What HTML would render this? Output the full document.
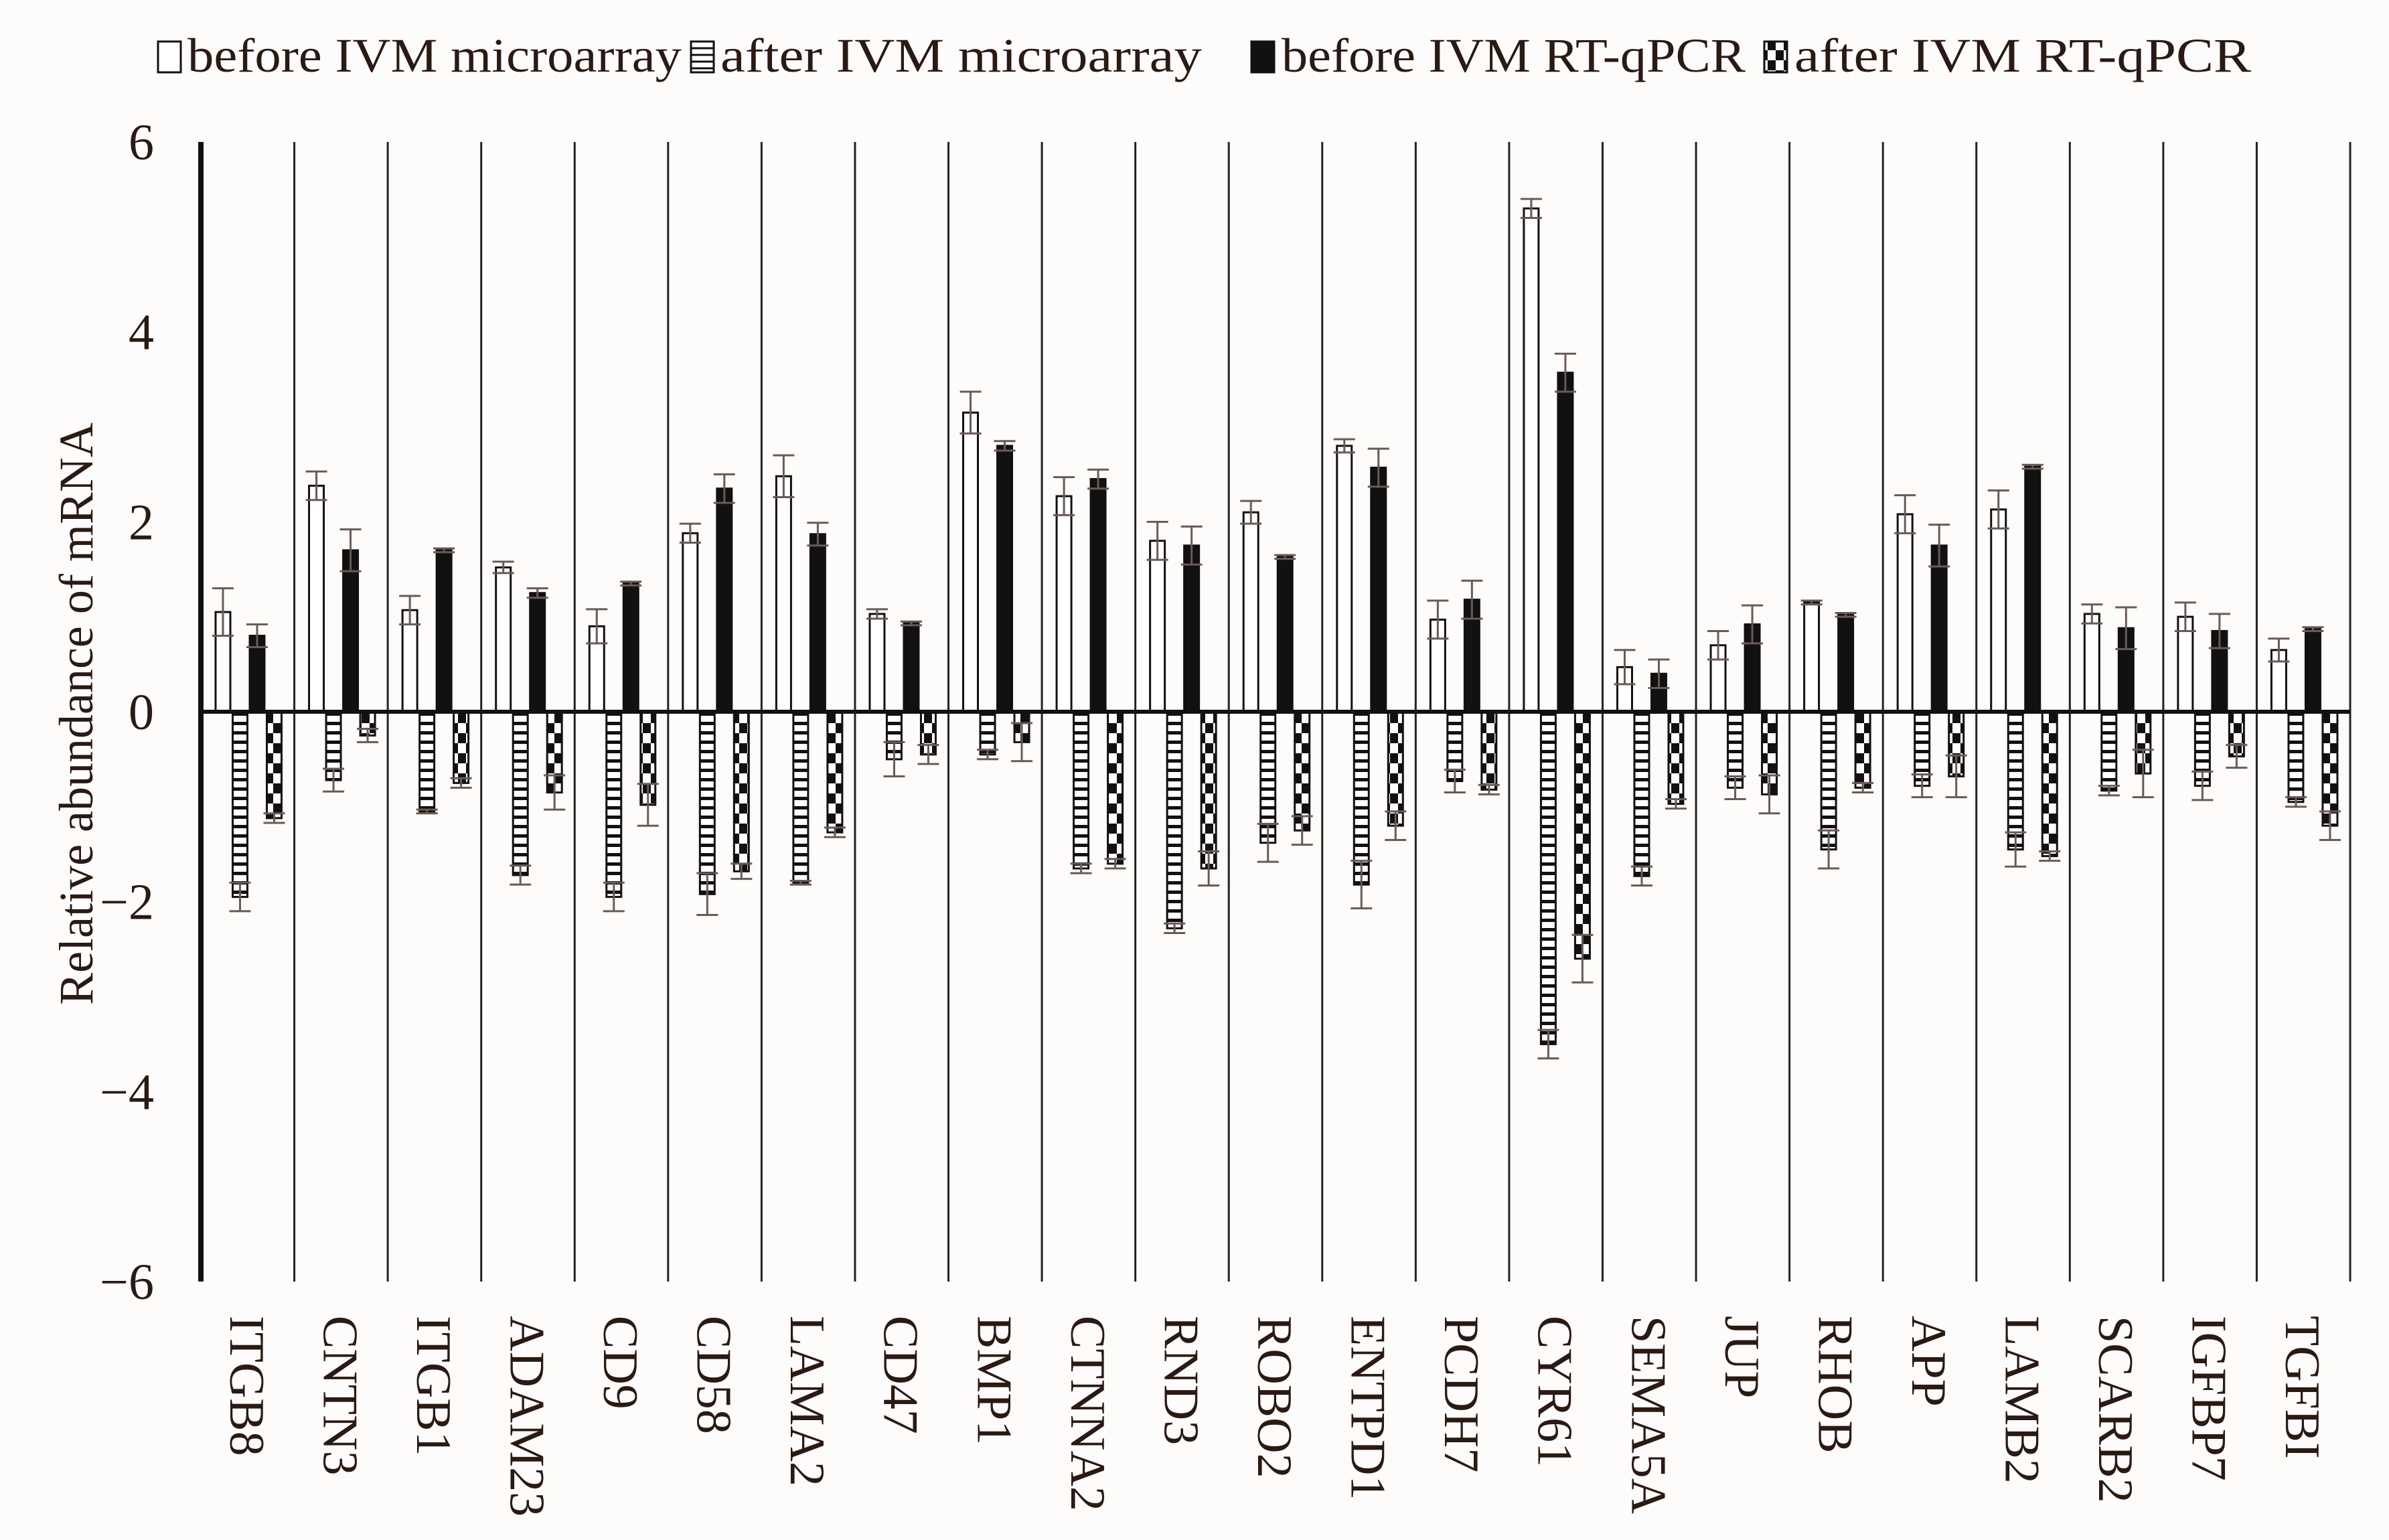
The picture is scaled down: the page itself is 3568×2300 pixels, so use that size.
<!DOCTYPE html>
<html><head><meta charset="utf-8">
<style>
html,body{margin:0;padding:0;background:#fdfcfa;}
svg{display:block;}
text{font-family:"Liberation Serif",serif;fill:#2a1a12;}
</style></head>
<body>
<svg id="chart" width="3568" height="2300" viewBox="0 0 3568 2300" xmlns="http://www.w3.org/2000/svg">
<defs>
<pattern id="hatch" patternUnits="userSpaceOnUse" width="22" height="14">
<rect width="22" height="14" fill="#fff"/><rect y="0" width="22" height="5" fill="#111"/>
</pattern>
<pattern id="checker" patternUnits="userSpaceOnUse" width="24" height="30">
<rect width="24" height="30" fill="#fff"/><rect x="0" y="0" width="12" height="15" fill="#111"/><rect x="12" y="15" width="12" height="15" fill="#111"/>
</pattern>
</defs>
<g id="legend"></g>
<g id="grid"></g>
<g id="bars"></g>
<g id="axes"></g>
</svg>
<script>
const categories=["ITGB8","CNTN3","ITGB1","ADAM23","CD9","CD58","LAMA2","CD47","BMP1","CTNNA2","RND3","ROBO2","ENTPD1","PCDH7","CYR61","SEMA5A","JUP","RHOB","APP","LAMB2","SCARB2","IGFBP7","TGFBI"];
const beforeMicro=[1.05,2.38,1.07,1.52,0.9,1.88,2.48,1.03,3.15,2.27,1.8,2.1,2.8,0.97,5.3,0.47,0.7,1.15,2.08,2.13,1.03,1.0,0.65];
const afterMicro=[-1.95,-0.72,-1.05,-1.72,-1.95,-1.92,-1.8,-0.5,-0.45,-1.65,-2.28,-1.38,-1.82,-0.73,-3.5,-1.73,-0.8,-1.45,-0.78,-1.45,-0.83,-0.78,-0.95];
const beforeQ=[0.8,1.7,1.7,1.25,1.35,2.35,1.87,0.93,2.8,2.45,1.75,1.63,2.57,1.18,3.57,0.4,0.92,1.02,1.75,2.58,0.88,0.85,0.87];
const afterQ=[-1.12,-0.25,-0.75,-0.85,-0.98,-1.68,-1.27,-0.45,-0.32,-1.6,-1.65,-1.25,-1.2,-0.82,-2.6,-0.97,-0.87,-0.8,-0.68,-1.52,-0.65,-0.47,-1.2];
const errBM=[0.25,0.15,0.15,0.06,0.18,0.1,0.22,0.05,0.22,0.2,0.2,0.12,0.07,0.2,0.1,0.18,0.15,0.02,0.2,0.2,0.1,0.15,0.12];
const errAM=[0.15,0.12,0.02,0.1,0.15,0.22,0.02,0.18,0.05,0.05,0.05,0.2,0.25,0.12,0.15,0.1,0.12,0.2,0.12,0.18,0.05,0.15,0.05];
const errBQ=[0.12,0.22,0.02,0.05,0.02,0.15,0.12,0.02,0.05,0.1,0.2,0.02,0.2,0.2,0.2,0.15,0.2,0.02,0.22,0.02,0.22,0.18,0.02];
const errAQ=[0.05,0.07,0.05,0.18,0.22,0.08,0.05,0.1,0.2,0.05,0.18,0.15,0.15,0.05,0.25,0.05,0.2,0.05,0.22,0.05,0.25,0.12,0.15];
const yTicks=[6,4,2,0,-2,-4,-6];
const legendLabels=["before IVM microarray","after IVM microarray","before IVM RT-qPCR","after IVM RT-qPCR"];

const NS="http://www.w3.org/2000/svg";
const X0=300,X1=3510,Y6=212,YM6=1914;
const catW=(X1-X0)/categories.length;
function y(v){return Y6+(6-v)*(YM6-Y6)/12;}
function xCat(i){return X0+i*catW;}
function mk(tag,attrs,parent){const e=document.createElementNS(NS,tag);for(const k in attrs)e.setAttribute(k,attrs[k]);parent.appendChild(e);return e;}
const grid=document.getElementById('grid'),bars=document.getElementById('bars'),axes=document.getElementById('axes'),legend=document.getElementById('legend');
const fills=["#fff","url(#hatch)","#111","url(#checker)"];
const series=[beforeMicro,afterMicro,beforeQ,afterQ];
const errs=[errBM,errAM,errBQ,errAQ];
const sNames=["before-microarray","after-microarray","before-qpcr","after-qpcr"];
for(let i=1;i<=categories.length;i++){
  const l=mk('line',{x1:xCat(i),x2:xCat(i),y1:Y6,y2:YM6,stroke:'#222','stroke-width':3},grid);
  
  
}
categories.forEach((c,i)=>{
  series.forEach((s,k)=>{
    const v=s[i];const bx=xCat(i)+22+k*25.5;const bw=22;
    const top=Math.min(y(v),y(0)),h=Math.abs(y(v)-y(0));
    const r=mk('rect',{x:bx,y:top,width:bw,height:h,fill:fills[k],stroke:'#111','stroke-width':3},bars);
    
    
    const e=errs[k][i];const cx=bx+bw/2;
    const ya=y(v+(v>=0?e:-e)),yb=y(v-(v>=0?e:-e));
    const g=mk('g',{stroke:'#6a5a55','stroke-width':3},bars);
    
    
    mk('line',{x1:cx,x2:cx,y1:ya,y2:yb},g);
    mk('line',{x1:cx-16,x2:cx+16,y1:ya,y2:ya},g);
    mk('line',{x1:cx-16,x2:cx+16,y1:yb,y2:yb},g);
  });
  const t=mk('text',{x:0,y:0,'font-size':74,transform:`translate(${xCat(i)+catW/2-26},1965) rotate(90)`,'text-anchor':'start'},axes);
  t.textContent=c;
  
  
});
const za=mk('line',{x1:X0,x2:X1,y1:y(0),y2:y(0),stroke:'#111','stroke-width':6},axes);


const ya=mk('line',{x1:X0,x2:X0,y1:Y6,y2:YM6,stroke:'#111','stroke-width':8},axes);


yTicks.forEach(v=>{
  const t=mk('text',{x:230,y:y(v)+26,'font-size':76,'text-anchor':'end'},axes);
  t.textContent=(v<0?'\u2212':'')+Math.abs(v);
  
  
});
const yt=mk('text',{x:0,y:0,'font-size':72,'text-anchor':'middle',transform:'translate(138,1066) rotate(-90)'},axes);
yt.textContent='Relative abundance  of mRNA';


const boxX=[236,1032,1869,2635],txX=[280,1076,1914,2680],txE=[1018,1795,2607,3362];
legendLabels.forEach((l,k)=>{
  const g=mk('g',{},legend);
  
  
  mk('rect',{x:boxX[k],y:62,width:34,height:46,fill:k===1?'#fff':fills[k],stroke:'#111','stroke-width':3},g);
  if(k===1){for(let j=0;j<4;j++)mk('line',{x1:boxX[k],x2:boxX[k]+34,y1:72+j*10,y2:72+j*10,stroke:'#111','stroke-width':3},g);}
  const t=mk('text',{x:txX[k],y:107,'font-size':72,textLength:txE[k]-txX[k],lengthAdjust:'spacingAndGlyphs'},g);
  t.textContent=l;
});
</script>
</body></html>
